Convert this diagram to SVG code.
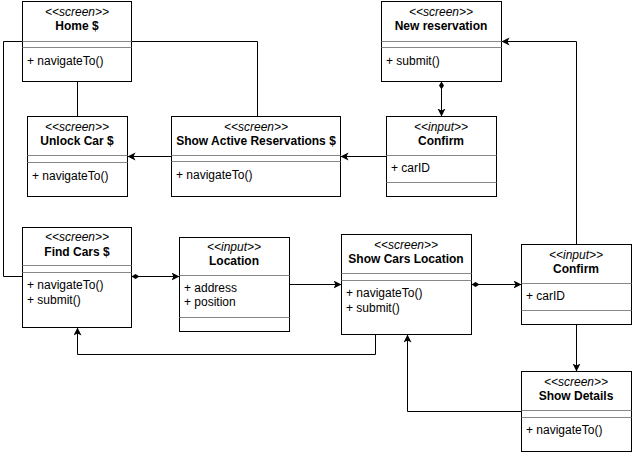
<svg xmlns="http://www.w3.org/2000/svg" width="634" height="454" viewBox="0 0 634 454">
<style>
.box{fill:#fff;stroke:#000;stroke-width:1}
.sep{stroke:#888;stroke-width:1}
.st{font-family:"Liberation Sans",Arial,sans-serif;font-size:12px;font-style:italic;text-anchor:middle;fill:#000}
.tt{font-family:"Liberation Sans",Arial,sans-serif;font-size:12px;font-weight:bold;text-anchor:middle;fill:#000}
.mb{font-family:"Liberation Sans",Arial,sans-serif;font-size:12px;fill:#000}
.ln{fill:none;stroke:#000;stroke-width:1}
</style>
<defs>
<marker id="arr" markerWidth="10" markerHeight="10" refX="8" refY="4" orient="auto" markerUnits="userSpaceOnUse">
<path d="M0,0 L8,4 L0,8 L2,4 Z" fill="#000"/>
</marker>
<marker id="dia" markerWidth="10" markerHeight="8" refX="0" refY="3" orient="auto" markerUnits="userSpaceOnUse">
<path d="M0,3 L4,0.5 L8,3 L4,5.5 Z" fill="#000"/>
</marker>
</defs>
<g id="connectors">
<path class="ln" d="M22.5,41.5 H3.5 V276.5 H22.5"/>
<path class="ln" d="M131.5,41.5 H257.5 V116.5"/>
<path class="ln" d="M77.5,81.5 V116.5"/>
<path class="ln" d="M171.5,156.5 H127.5" marker-end="url(#arr)"/>
<path class="ln" d="M441.5,81.5 V116.5" marker-start="url(#dia)" marker-end="url(#arr)"/>
<path class="ln" d="M386.5,156.5 H340.5" marker-end="url(#arr)"/>
<path class="ln" d="M576.5,244.5 V41.5 H501.5" marker-end="url(#arr)"/>
<path class="ln" d="M131.5,276.5 H179.5" marker-start="url(#dia)" marker-end="url(#arr)"/>
<path class="ln" d="M289.5,284.5 H341.5" marker-end="url(#arr)"/>
<path class="ln" d="M471.5,284.5 H521.5" marker-start="url(#dia)" marker-end="url(#arr)"/>
<path class="ln" d="M576.5,324.5 V371.5" marker-end="url(#arr)"/>
<path class="ln" d="M521.5,411.5 H407.5 V334.5" marker-end="url(#arr)"/>
<path class="ln" d="M375.5,334.5 V354.5 H77.5 V327.5" marker-end="url(#arr)"/>
</g>
<g id="home">
<rect class="box" x="22.5" y="1.5" width="109" height="80"/>
<line class="sep" x1="22.5" y1="41.5" x2="131.5" y2="41.5"/>
<line class="sep" x1="22.5" y1="47.5" x2="131.5" y2="47.5"/>
<text class="st" x="77" y="16">&lt;&lt;screen&gt;&gt;</text>
<text class="tt" x="77" y="30">Home $</text>
<text class="mb" x="27" y="65">+ navigateTo()</text>
</g>
<g id="unlock">
<rect class="box" x="27.5" y="116.5" width="100" height="80"/>
<line class="sep" x1="27.5" y1="155.5" x2="127.5" y2="155.5"/>
<line class="sep" x1="27.5" y1="162.5" x2="127.5" y2="162.5"/>
<text class="st" x="77" y="131">&lt;&lt;screen&gt;&gt;</text>
<text class="tt" x="77" y="145">Unlock Car $</text>
<text class="mb" x="32" y="180">+ navigateTo()</text>
</g>
<g id="sar">
<rect class="box" x="171.5" y="116.5" width="169" height="80"/>
<line class="sep" x1="171.5" y1="155.5" x2="340.5" y2="155.5"/>
<line class="sep" x1="171.5" y1="161.5" x2="340.5" y2="161.5"/>
<text class="st" x="256" y="131">&lt;&lt;screen&gt;&gt;</text>
<text class="tt" x="256" y="145">Show Active Reservations $</text>
<text class="mb" x="176" y="179">+ navigateTo()</text>
</g>
<g id="newres">
<rect class="box" x="381.5" y="1.5" width="120" height="80"/>
<line class="sep" x1="381.5" y1="41.5" x2="501.5" y2="41.5"/>
<line class="sep" x1="381.5" y1="47.5" x2="501.5" y2="47.5"/>
<text class="st" x="441" y="16">&lt;&lt;screen&gt;&gt;</text>
<text class="tt" x="441" y="30">New reservation</text>
<text class="mb" x="386" y="65">+ submit()</text>
</g>
<g id="confirm1">
<rect class="box" x="386.5" y="116.5" width="110" height="80"/>
<line class="sep" x1="386.5" y1="155.5" x2="496.5" y2="155.5"/>
<line class="sep" x1="386.5" y1="182.5" x2="496.5" y2="182.5"/>
<text class="st" x="441" y="131">&lt;&lt;input&gt;&gt;</text>
<text class="tt" x="441" y="145">Confirm</text>
<text class="mb" x="391" y="172">+ carID</text>
</g>
<g id="findcars">
<rect class="box" x="22.5" y="227.5" width="109" height="100"/>
<line class="sep" x1="22.5" y1="265.5" x2="131.5" y2="265.5"/>
<line class="sep" x1="22.5" y1="272.5" x2="131.5" y2="272.5"/>
<text class="st" x="77" y="241">&lt;&lt;screen&gt;&gt;</text>
<text class="tt" x="77" y="256">Find Cars $</text>
<text class="mb" x="27" y="289">+ navigateTo()</text>
<text class="mb" x="27" y="304">+ submit()</text>
</g>
<g id="location">
<rect class="box" x="179.5" y="237.5" width="110" height="94"/>
<line class="sep" x1="179.5" y1="275.5" x2="289.5" y2="275.5"/>
<line class="sep" x1="179.5" y1="317.5" x2="289.5" y2="317.5"/>
<text class="st" x="234" y="251">&lt;&lt;input&gt;&gt;</text>
<text class="tt" x="234" y="265">Location</text>
<text class="mb" x="184" y="292">+ address</text>
<text class="mb" x="184" y="306">+ position</text>
</g>
<g id="showcars">
<rect class="box" x="341.5" y="234.5" width="130" height="100"/>
<line class="sep" x1="341.5" y1="273.5" x2="471.5" y2="273.5"/>
<line class="sep" x1="341.5" y1="280.5" x2="471.5" y2="280.5"/>
<text class="st" x="406" y="249">&lt;&lt;screen&gt;&gt;</text>
<text class="tt" x="406" y="263">Show Cars Location</text>
<text class="mb" x="346" y="297">+ navigateTo()</text>
<text class="mb" x="346" y="312">+ submit()</text>
</g>
<g id="confirm2">
<rect class="box" x="521.5" y="244.5" width="110" height="80"/>
<line class="sep" x1="521.5" y1="283.5" x2="631.5" y2="283.5"/>
<line class="sep" x1="521.5" y1="310.5" x2="631.5" y2="310.5"/>
<text class="st" x="576" y="259">&lt;&lt;input&gt;&gt;</text>
<text class="tt" x="576" y="273">Confirm</text>
<text class="mb" x="526" y="300">+ carID</text>
</g>
<g id="showdetails">
<rect class="box" x="521.5" y="371.5" width="110" height="80"/>
<line class="sep" x1="521.5" y1="410.5" x2="631.5" y2="410.5"/>
<line class="sep" x1="521.5" y1="417.5" x2="631.5" y2="417.5"/>
<text class="st" x="576" y="386">&lt;&lt;screen&gt;&gt;</text>
<text class="tt" x="576" y="400">Show Details</text>
<text class="mb" x="526" y="434">+ navigateTo()</text>
</g>
</svg>
